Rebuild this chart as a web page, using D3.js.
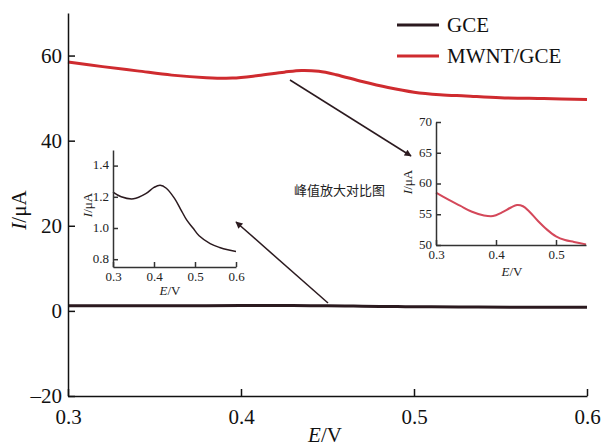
<!DOCTYPE html>
<html><head><meta charset="utf-8">
<script src="https://cdn.jsdelivr.net/npm/d3@7"></script>
<style>
html,body{margin:0;padding:0;background:#fff;}
svg{display:block;}
</style></head>
<body>
<svg id="chart" width="603" height="447"></svg>
<script>
// ---- data ----
const mwntE = [0.30,0.32,0.34,0.36,0.38,0.395,0.41,0.425,0.435,0.445,0.455,0.47,0.485,0.50,0.515,0.53,0.55,0.575,0.60];
const mwntI = [58.5,57.4,56.4,55.4,54.8,54.7,55.3,56.1,56.5,56.3,55.5,53.9,52.5,51.4,50.8,50.5,50.1,49.9,49.7];
const gceE = [0.30,0.32,0.35,0.38,0.40,0.415,0.43,0.45,0.465,0.48,0.495,0.51,0.537,0.56,0.58,0.60];
const gceI = [1.23,1.20,1.187,1.22,1.26,1.274,1.255,1.19,1.12,1.05,1.00,0.95,0.90,0.875,0.86,0.85];
const mainXTicks = [0.3,0.4,0.5,0.6];
const mainYTicks = [-20,0,20,40,60];
const inset1XTicks = [0.3,0.4,0.5,0.6];
const inset1YTicks = [0.8,1.0,1.2,1.4];
const inset2XTicks = [0.3,0.4,0.5];
const inset2YTicks = [50,55,60,65,70];
const seriesNames = ["GCE","MWNT/GCE"];
const noteText = "峰值放大对比图";

const SERIF = "'Liberation Serif', serif";
const svg = d3.select("#chart");
const BLACK = "#2b1a1f", RED = "#cf2b2f", RED2 = "#d4485a";

svg.append("defs").append("marker").attr("id","ah").attr("viewBox","0 0 10 10")
  .attr("refX",9).attr("refY",5).attr("markerWidth",9).attr("markerHeight",7)
  .attr("markerUnits","userSpaceOnUse").attr("orient","auto")
  .append("path").attr("d","M0,0 L10,5 L0,10 Z").attr("fill",BLACK);

const x = d3.scaleLinear().domain([0.3,0.6]).range([68,587]);
const y = d3.scaleLinear().domain([-20,70]).range([396,13]);

const mwnt = mwntE.map((e,i)=>[e,mwntI[i]]);
const gce = gceE.map((e,i)=>[e,gceI[i]]);

const line = (sx,sy)=>d3.line().x(d=>sx(d[0])).y(d=>sy(d[1])).curve(d3.curveCatmullRom);

svg.append("path").datum(mwnt).attr("d",line(x,y)).attr("fill","none")
  .attr("stroke",RED).attr("stroke-width",3);
svg.append("path").datum(gce).attr("d",line(x,y)).attr("fill","none")
  .attr("stroke",BLACK).attr("stroke-width",3);

const yAx = svg.append("g").attr("transform","translate(68,0)")
  .call(d3.axisLeft(y).tickValues(mainYTicks).tickSize(-7).tickSizeOuter(0).tickPadding(6)
    .tickFormat(d=>d<0?"\u2013"+Math.abs(d):d));
const xAx = svg.append("g").attr("transform","translate(0,396)")
  .call(d3.axisBottom(x).tickValues(mainXTicks).tickSize(-7).tickSizeOuter(0).tickPadding(13)
    .tickFormat(d3.format(".1f")));
[yAx,xAx].forEach(g=>{
  g.attr("font-family",null).attr("font-size",null);
  g.selectAll("text").style("font-size","21px").attr("fill","#111").style("font-family",SERIF);
  g.selectAll("line,path").attr("stroke","#111").attr("stroke-width",1.5);
});

const xt = svg.append("text").attr("x",325).attr("y",442).attr("text-anchor","middle")
  .style("font-size","21px").attr("fill","#111").style("font-family",SERIF);
xt.append("tspan").attr("font-style","italic").text("E");
xt.append("tspan").text("/V");
const yt = svg.append("text").attr("transform","translate(26,210) rotate(-90)")
  .attr("text-anchor","middle").style("font-size","21px").attr("fill","#111").style("font-family",SERIF);
yt.append("tspan").attr("font-style","italic").text("I");
yt.append("tspan").text("/\u03bcA");

const leg = svg.append("g");
[BLACK,RED].forEach((c,i)=>{
  const ly = 25 + i*31;
  leg.append("line").attr("x1",397).attr("x2",439).attr("y1",ly).attr("y2",ly)
    .attr("stroke",c).attr("stroke-width",3);
  leg.append("text").attr("x",447).attr("y",ly+7).style("font-size","21px").attr("fill","#111")
    .style("font-family",SERIF).text(seriesNames[i]);
});

function inset(xs,ys,xt_,yt_,data,color,sw,xTitle,yTitle,fmtY){
  const g = svg.append("g");
  g.append("path").datum(data).attr("d",line(xs,ys)).attr("fill","none")
    .attr("stroke",color).attr("stroke-width",sw);
  const ay = g.append("g").attr("transform",`translate(${xs.range()[0]},0)`)
    .call(d3.axisLeft(ys).tickValues(yt_).tickSize(-5).tickSizeOuter(0).tickPadding(4).tickFormat(fmtY));
  const ax = g.append("g").attr("transform",`translate(0,${ys.range()[0]})`)
    .call(d3.axisBottom(xs).tickValues(xt_).tickSize(-5).tickSizeOuter(0).tickPadding(5).tickFormat(d3.format(".1f")));
  [ay,ax].forEach(a=>{
    a.attr("font-family",null).attr("font-size",null);
    a.selectAll("text").style("font-size","13px").attr("fill","#222").style("font-family",SERIF);
    a.selectAll("line,path").attr("stroke","#333").attr("stroke-width",1.5);
  });
  ay.selectAll("text").attr("dy","0.25em");
  const t1 = g.append("text").attr("x",xTitle[0]).attr("y",xTitle[1]).attr("text-anchor","middle")
    .style("font-size","13px").attr("fill","#222").style("font-family",SERIF);
  t1.append("tspan").attr("font-style","italic").text("E");
  t1.append("tspan").text("/V");
  const t2 = g.append("text").attr("transform",`translate(${yTitle[0]},${yTitle[1]}) rotate(-90)`)
    .attr("text-anchor","middle").style("font-size","13px").attr("fill","#222").style("font-family",SERIF);
  t2.append("tspan").attr("font-style","italic").text("I");
  t2.append("tspan").text("/\u03bcA");
  return g;
}

const x1 = d3.scaleLinear().domain([0.3,0.6]).range([113,236]);
const y1 = d3.scaleLinear().domain([0.75,1.5]).range([267,150]);
inset(x1,y1,inset1XTicks,inset1YTicks,gce,BLACK,1.5,[170,295],[92,205],d3.format(".1f"));

const x2 = d3.scaleLinear().domain([0.3,0.55]).range([436,586]);
const y2 = d3.scaleLinear().domain([50,70]).range([245,122]);
inset(x2,y2,inset2XTicks,inset2YTicks,mwnt.filter(d=>d[0]<=0.55),RED2,2,[512,276],[412,182],d3.format("d"));

svg.append("text").attr("x",294).attr("y",195).style("font-size","13px").attr("fill","#222")
  .style("font-family","'Noto Sans CJK SC'").text(noteText);

svg.append("line").attr("x1",328).attr("y1",303).attr("x2",236).attr("y2",222)
  .attr("stroke",BLACK).attr("stroke-width",1.5).attr("marker-end","url(#ah)");
svg.append("line").attr("x1",290).attr("y1",80).attr("x2",411).attr("y2",156)
  .attr("stroke",BLACK).attr("stroke-width",1.5).attr("marker-end","url(#ah)");
</script>
</body></html>
